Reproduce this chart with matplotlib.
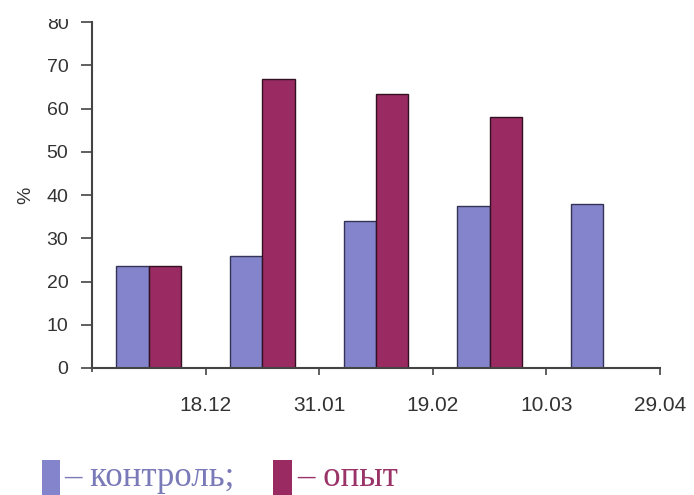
import matplotlib.pyplot as plt
from matplotlib.patches import Rectangle
import numpy as np

# data
dates = ['18.12', '31.01', '19.02', '10.03', '29.04']
control = [23.5, 26, 34, 37.5, 38]
opyt = [23.5, 66.8, 63.3, 58, 0]

BLUE = '#8484cc'
PLUM = '#992a62'

plt.rcParams['font.family'] = ['Liberation Sans', 'DejaVu Sans']

fig = plt.figure(figsize=(6.94, 4.95), dpi=100)
ax = fig.add_axes([92/694, 1 - 368/495, (660 - 92)/694, (368 - 22)/495])

x = np.arange(len(dates))
w = 0.285
ax.bar(x - w/2, control, w, color=BLUE, edgecolor='#333355', linewidth=1)
mask = np.array(opyt) > 0
ax.bar(x[mask] + w/2, np.array(opyt)[mask], w, color=PLUM, edgecolor='#331122', linewidth=1)

ax.set_xlim(-0.5, 4.5)
ax.set_ylim(0, 80)
ax.set_yticks(range(0, 81, 10))
ax.set_xticks(x + 0.5)
ax.set_xticklabels(dates)
ax.xaxis.set_minor_locator(plt.FixedLocator([-0.5]))
ax.tick_params(axis='x', which='minor', length=6, width=1.2, color='#444444', direction='inout')

for s in ['top', 'right']:
    ax.spines[s].set_visible(False)
for s in ['left', 'bottom']:
    ax.spines[s].set_color('#444444')
    ax.spines[s].set_linewidth(1.5)
ax.tick_params(axis='both', colors='#444444', labelcolor='#333333', width=1.2)
ax.tick_params(axis='y', length=8, pad=9, labelsize=14)
ax.tick_params(axis='x', length=5, pad=15, labelsize=15)
ax.set_ylabel('%', fontsize=14, color='#333333', labelpad=9)

# legend drawn below the chart
fig.patches.append(Rectangle((42/694, 0), 18/694, 35/495, transform=fig.transFigure,
                             facecolor=BLUE, edgecolor='none'))
fig.text(64/694, 9/495, '– контроль;', family='Liberation Serif', fontsize=25,
         color='#7a7ab8', va='baseline')
fig.patches.append(Rectangle((273/694, 0), 19/694, 35/495, transform=fig.transFigure,
                             facecolor=PLUM, edgecolor='none'))
fig.text(297/694, 9/495, '– опыт', family='Liberation Serif', fontsize=25,
         color='#9a3468', va='baseline')

# the source image is cropped at the top
fig.patches.append(Rectangle((0, 1 - 19/495), 1, 19/495, transform=fig.transFigure,
                             facecolor='white', edgecolor='none', zorder=10))

fig.savefig('out.png', dpi=100)
